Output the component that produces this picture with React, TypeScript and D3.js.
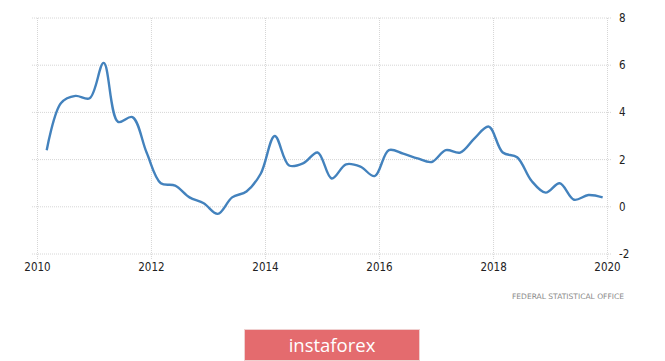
import React from "react";
import * as d3 from "d3";

const dates: string[] = [];
for (let y = 2010; y <= 2019; y++) {
  for (const m of ["03", "06", "09", "12"]) dates.push(`${y}-${m}-01`);
}
const gdpGrowth = [
  2.4, 4.4, 4.7, 4.6, 6.1, 3.6, 3.8, 2.3, 1.0, 0.9,
  0.4, 0.15, -0.3, 0.4, 0.65, 1.4, 3.0, 1.75, 1.85, 2.3,
  1.2, 1.8, 1.7, 1.3, 2.4, 2.25, 2.05, 1.9, 2.4, 2.3,
  2.9, 3.4, 2.3, 2.1, 1.1, 0.6, 1.0, 0.3, 0.5, 0.4,
];
const xTickYears = [2010, 2012, 2014, 2016, 2018, 2020];
const yTicks = [-2, 0, 2, 4, 6, 8];
const sourceText = "FEDERAL STATISTICAL OFFICE";
const brandText = "instaforex";

export default function App() {
  const parse = d3.timeParse("%Y-%m-%d");
  const data = dates.map((d, i) => ({ date: parse(d) as Date, value: gdpGrowth[i] }));
  const x = d3
    .scaleTime()
    .domain([new Date(2010, 0, 1), new Date(2020, 0, 1)])
    .range([37.5, 607.5]);
  const y = d3.scaleLinear().domain([-2, 8]).range([254, 18]);
  const line = d3
    .line<{ date: Date; value: number }>()
    .x((d) => x(d.date))
    .y((d) => y(d.value))
    .curve(d3.curveCatmullRom.alpha(0.5));
  const gridColor = "#d6d6d6";
  const labelFont = "'Liberation Sans Narrow', 'Arial Narrow', 'DejaVu Sans Condensed', sans-serif";
  return (
    <svg
      width={665}
      height={361}
      style={{ position: "absolute", left: 0, top: 0, background: "#fff" }}
    >
      {yTicks.map((t) => (
        <line
          key={"h" + t}
          x1={32}
          x2={612}
          y1={y(t)}
          y2={y(t)}
          stroke={gridColor}
          strokeWidth={1}
          strokeDasharray="1,1"
        />
      ))}
      {xTickYears.map((yr) => (
        <line
          key={"v" + yr}
          x1={x(new Date(yr, 0, 1))}
          x2={x(new Date(yr, 0, 1))}
          y1={18}
          y2={259}
          stroke={gridColor}
          strokeWidth={1}
          strokeDasharray="1,1"
        />
      ))}
      {yTicks.map((t) => (
        <text
          key={"yl" + t}
          x={619}
          y={y(t) + 4}
          fontSize={11.5}
          fontFamily={labelFont}
          fill="#222"
        >
          {t}
        </text>
      ))}
      {xTickYears.map((yr) => (
        <text
          key={"xl" + yr}
          x={x(new Date(yr, 0, 1))}
          y={271}
          fontSize={11.5}
          fontFamily={labelFont}
          fill="#222"
          textAnchor="middle"
        >
          {yr}
        </text>
      ))}
      <path d={line(data) || ""} fill="none" stroke="#4382bd" strokeWidth={2.4} />
      <text
        x={624}
        y={298.5}
        fontSize={7.5}
        fontFamily="'DejaVu Sans', sans-serif"
        fill="#8a8a8a"
        textAnchor="end"
        textLength={112}
        lengthAdjust="spacingAndGlyphs"
      >
        {sourceText}
      </text>
      <rect x={244.5} y={329.5} width={175} height={31} fill="#e46b6e" stroke="#f0d0d0" strokeWidth={1} />
      <text
        x={332}
        y={352}
        fontSize={18.5}
        fontFamily="'Open Sans', sans-serif"
        fill="#fff"
        textAnchor="middle"
      >
        {brandText}
      </text>
    </svg>
  );
}
